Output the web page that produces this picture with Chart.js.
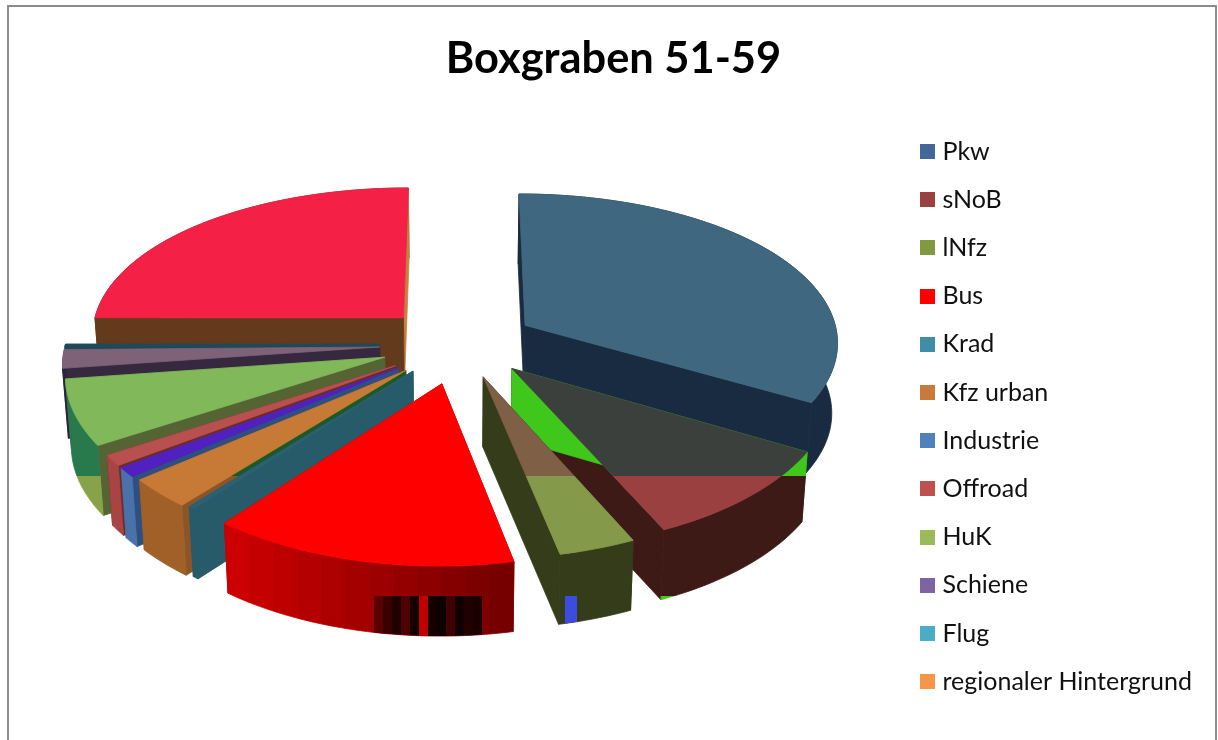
<!DOCTYPE html>
<html><head><meta charset="utf-8">
<script src="https://cdn.jsdelivr.net/npm/chart.js@4/dist/chart.umd.min.js"></script>
<style>
html,body{margin:0;padding:0;background:#fff;overflow:hidden;width:1218px;height:740px}
#wrap{position:absolute;left:0;top:0;width:1218px;height:740px}
#frame{position:absolute;left:7px;top:5px;width:1206px;height:800px;border:2px solid #8c8c8c;pointer-events:none}
</style></head><body>
<div id="frame"></div>
<div id="wrap"><canvas id="c" width="1218" height="740"></canvas></div>
<script>
const chartTitle = 'Boxgraben 51-59';
const categories = ['Pkw','sNoB','lNfz','Bus','Krad','Kfz urban','Industrie','Offroad','HuK','Schiene','Flug','regionaler Hintergrund'];
const values = [33.3,9.9,3.5,13.9,0.3,3.05,0.97,1.1,6.8,1.95,0.28,25.0];
const legendColors = ['#426898','#9c3f3f','#83993f','#ff0000','#3d8ea6','#c97a38','#4f81bd','#c0504d','#9bbb59','#8064a2','#4bacc6','#f79646'];

// face colours: [below the render seam, above the render seam]
const topLower  = ['#3f6780','#9b4040','#849a4a','#ff0000','#2b6172','#c77a36','#5020c0','#b85050','#80b85a','#7e6378','#1f4a5a','#f42046'];
const topUpper  = ['#3f6780','#3c403c','#7f6047','#ff0000','#2b6172','#c77a36','#5020c0','#b85050','#80b85a','#7e6378','#1f4a5a','#f42046'];
const wallLower = ['#182b40','#3e1a16','#343c1a','#9c0000','#285b6a','#8a5528','#2f4f80','#6e2a2a','#546432','#35283f','#1a4a58','#633a1c'];
const wallUpper = ['#182b40','#3fc71c','#343c1a','#9c0000','#285b6a','#1a5a28','#2f4f80','#6e2a2a','#546432','#35283f','#1a4a58','#633a1c'];
const wallEnd   = ['#182b40','#3e1a16','#343c1a','#9c0000','#285b6a','#8a5528','#2f4f80','#6e2a2a','#546432','#35283f','#1a4a58','#c9803c'];
const sideLower = ['#182b40','#3e1a16','#343c1a','#a00000','#285b6a','#a06028','#4a72aa','#a84444','#88a24a','#2a2440','#1a4a58','#633a1c'];
const sideUpper = ['#182b40','#3fc71c','#343c1a','#a00000','#285b6a','#a06028','#4a72aa','#a84444','#287a4c','#2a2440','#1a4a58','#633a1c'];
const sideFloor = ['#182b40','#3fc71c','#343c1a','#a00000','#285b6a','#a06028','#4a72aa','#a84444','#88a24a','#2a2440','#1a4a58','#633a1c'];
const busStripes = ['#cc0000','#c40000','#bc0000','#b40000','#ac0000','#a40000','#9c0000','#940000','#8c0000','#840000','#7c0000','#760000'];
const busDark = ['#5a0000','#3a0000','#200000','#500000','#150000','#c00000','#150000','#0c0000','#400000','#100000','#220000','#1a0000'];

const view = {cx:458, cy:344, a:314, b:151, px:0.1, py:0.118, explode:0.25, depth:70, converge:0.015, seamY:476, floorY:596};
// small per-slice screen nudges that make up for the reference's uneven 3D projection
const nudgeX = [0,0,0,2,5,4,3,3,1,0,0,0];
const nudgeY = [0,-4,-4,2,-3,-1,0,0,0,0,0,0];

function project(u,v){return [view.cx+view.a*u/(1-view.px*v), view.cy+view.b*v/(1-view.py*v)];}

function fillBands(ctx,W,H,trace,upper,lower,floor){
  const band=(y0,y1,col)=>{ctx.save();ctx.beginPath();ctx.rect(0,y0,W,y1-y0);ctx.clip();ctx.beginPath();trace();ctx.fillStyle=col;ctx.fill();ctx.strokeStyle=col;ctx.lineWidth=0.8;ctx.lineJoin='round';ctx.stroke();ctx.restore();};
  band(0,view.seamY,upper);band(view.seamY,view.floorY,lower);band(view.floorY,H,floor);
}

function drawSlice(ctx,arc,i,W,H){
  const {startAngle:s,endAngle:e}=arc.getProps(['startAngle','endAngle'],true);
  const mid=(s+e)/2, ox=view.explode*Math.cos(mid), oy=view.explode*Math.sin(mid);
  const place=(u,v)=>{const p=project(u,v);return [p[0]+nudgeX[i],p[1]+nudgeY[i]];};
  const apex=place(ox,oy);
  const n=Math.max(2,Math.ceil((e-s)/0.02));
  const rim=[];
  for(let k=0;k<=n;k++){const t=s+(e-s)*k/n;rim.push(place(ox+Math.cos(t),oy+Math.sin(t)));}
  const poly=(pts)=>()=>{pts.forEach((p,j)=>j?ctx.lineTo(p[0],p[1]):ctx.moveTo(p[0],p[1]));ctx.closePath();};
  const down=(p)=>[p[0]+(view.cx-p[0])*view.converge,p[1]+view.depth];
  const first=rim[0], last=rim[rim.length-1];
  const walls=()=>{
    fillBands(ctx,W,H,poly([apex,last,down(last),down(apex)]),wallEnd[i],wallEnd[i],wallEnd[i]);
    fillBands(ctx,W,H,poly([apex,first,down(first),down(apex)]),wallUpper[i],wallLower[i],wallLower[i]);
  };
  const outerWall=()=>{
    let side=sideLower[i], floor=sideFloor[i], upper=sideUpper[i];
    if(categories[i]==='Bus'){
      const g=ctx.createLinearGradient(last[0],0,first[0],0);
      busStripes.forEach((c,k)=>{g.addColorStop(k/busStripes.length,c);g.addColorStop((k+1)/busStripes.length,c);});
      side=upper=floor=g;
    }
    const outer=rim.concat(rim.slice().reverse().map(down));
    fillBands(ctx,W,H,poly(outer),upper,side,floor);
    if(categories[i]==='Bus'){
      ctx.save();ctx.beginPath();ctx.rect(374,view.floorY,108,H-view.floorY);ctx.clip();
      const g=ctx.createLinearGradient(374,0,482,0);
      busDark.forEach((c,k)=>{g.addColorStop(k/busDark.length,c);g.addColorStop((k+1)/busDark.length,c);});
      ctx.beginPath();poly(outer)();ctx.fillStyle=g;ctx.fill();ctx.restore();
    }
    if(categories[i]==='lNfz'){
      ctx.save();ctx.beginPath();ctx.rect(565,view.floorY,12,H-view.floorY);ctx.clip();
      ctx.beginPath();poly(outer)();ctx.fillStyle='#3b4de0';ctx.fill();ctx.restore();
    }
  };
  if(Math.sin(mid)<0){outerWall();walls();}else{walls();outerWall();}
  // top
  fillBands(ctx,W,H,poly([apex].concat(rim)),topUpper[i],topLower[i],topLower[i]);
}

const pie3d={
  id:'pie3d',
  beforeDatasetDraw(chart,args){
    const ctx=chart.ctx, arcs=args.meta.data;
    const order=arcs.map((a,i)=>i).sort((x,y)=>{
      const m=i=>{const p=arcs[i].getProps(['startAngle','endAngle'],true);return Math.sin((p.startAngle+p.endAngle)/2);};
      return m(x)-m(y);
    });
    order.forEach(i=>drawSlice(ctx,arcs[i],i,chart.width,chart.height));
    return false;
  }
};

function swatch(color){
  const c=document.createElement('canvas');c.width=15;c.height=15;
  const x=c.getContext('2d');x.fillStyle=color;x.fillRect(0,0,15,15);return c;
}

new Chart(document.getElementById('c'),{
  type:'pie',
  data:{labels:categories,datasets:[{data:values,backgroundColor:legendColors,borderWidth:0}]},
  plugins:[pie3d],
  options:{
    responsive:false,animation:false,
    layout:{padding:{left:25,right:16,top:0,bottom:0}},
    plugins:{
      tooltip:{enabled:false},
      title:{display:true,text:chartTitle,color:'#000',font:{family:'Lato',size:43.4,weight:'bold',lineHeight:1.2},padding:{top:33,bottom:8}},
      legend:{position:'right',align:'center',fullSize:false,labels:{
        color:'#111',font:{family:'Lato',size:25,lineHeight:1.2},padding:23.2,
        usePointStyle:true,pointStyleWidth:4,boxHeight:15,
        generateLabels(chart){
          return Chart.overrides.pie.plugins.legend.labels.generateLabels(chart).map((l,i)=>Object.assign(l,{pointStyle:swatch(legendColors[i]),lineWidth:0}));
        }
      }}
    }
  }
});
</script>
</body></html>
